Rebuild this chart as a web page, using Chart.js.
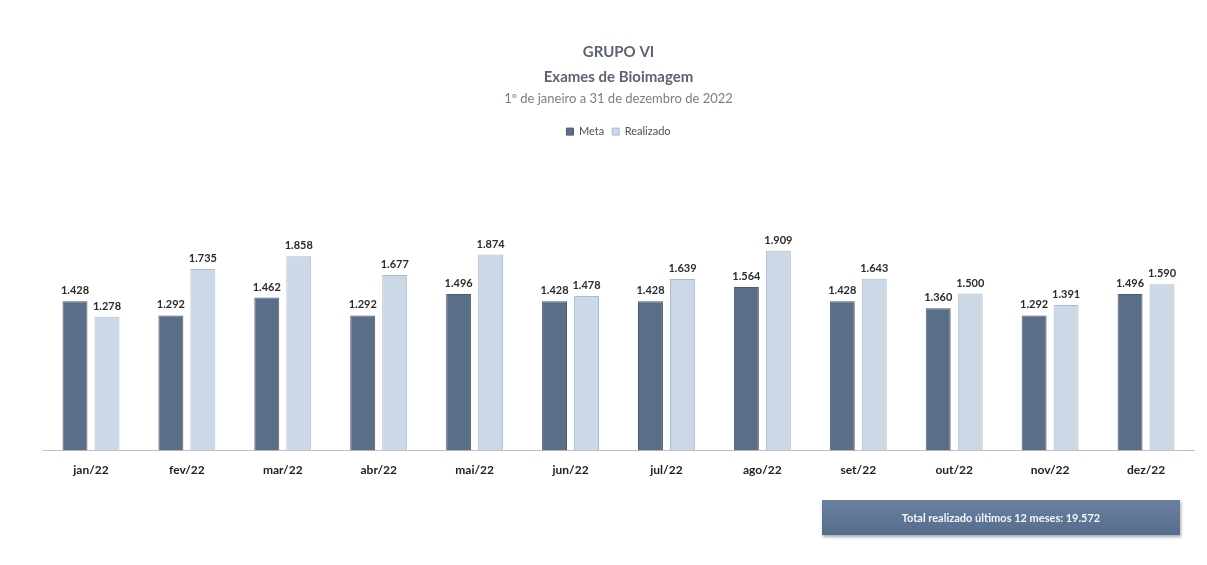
<!doctype html>
<html>
<head>
    <title>Exames de Bioimagem</title>
    <meta charset="utf-8">
    <script src="https://cdn.jsdelivr.net/npm/chart.js@4.4.1/dist/chart.umd.min.js"></script>
    <style>
    body { margin: 0; background: #fff; }
    #wrap { position: relative; width: 1207px; height: 565px; }
    #total {
        position: absolute; left: 822px; top: 500px; width: 358px; height: 35px;
        background: linear-gradient(#6a80a0, #566c8c);
        color: #f4f6fa; font: bold 11px Lato, "Open Sans", sans-serif;
        line-height: 35px; text-align: center;
        box-shadow: 1px 2px 3px rgba(0,0,0,0.35);
    }
    </style>
</head>
<body>
<div id="wrap">
    <canvas id="grafico" width="1207" height="565"></canvas>
    <div id="total"></div>
</div>
<script>
    var meses = ["jan/22", "fev/22", "mar/22", "abr/22", "mai/22", "jun/22",
                 "jul/22", "ago/22", "set/22", "out/22", "nov/22", "dez/22"];
    var meta = [1428, 1292, 1462, 1292, 1496, 1428, 1428, 1564, 1428, 1360, 1292, 1496];
    var realizado = [1278, 1735, 1858, 1677, 1874, 1478, 1639, 1909, 1643, 1500, 1391, 1590];

    function milhar(n) {
        return String(n).replace(/\B(?=(\d{3})+(?!\d))/g, ".");
    }

    var soma = 0;
    for (var i = 0; i < realizado.length; i++) soma += realizado[i];
    document.getElementById("total").textContent = "Total realizado últimos 12 meses: " + milhar(soma);

    // rotulos de valor em cima das barras
    var rotulos = {
        id: "rotulos",
        afterDatasetsDraw: function(chart) {
            var ctx = chart.ctx;
            ctx.save();
            ctx.font = "bold 11px Lato, 'Open Sans', sans-serif";
            ctx.fillStyle = "#2b2b2b";
            ctx.textAlign = "center";
            ctx.textBaseline = "bottom";
            chart.data.datasets.forEach(function(ds, d) {
                chart.getDatasetMeta(d).data.forEach(function(bar, j) {
                    ctx.fillText(milhar(ds.data[j]), bar.x, bar.y - 5);
                });
            });
            ctx.restore();
        }
    };

    var ctx = document.getElementById("grafico").getContext("2d");
    new Chart(ctx, {
        type: "bar",
        data: {
            labels: meses,
            datasets: [
                {
                    label: "Meta",
                    data: meta,
                    backgroundColor: "#5b6e89",
                    borderColor: "#4a5b74",
                    borderWidth: 1
                },
                {
                    label: "Realizado",
                    data: realizado,
                    backgroundColor: "#cbd8e6",
                    borderColor: "#a8bbd0",
                    borderWidth: 1
                }
            ]
        },
        options: {
            responsive: false,
            animation: false,
            layout: { padding: { left: 43, right: 13, top: 40, bottom: 84 } },
            datasets: {
                bar: { categoryPercentage: 0.667, barPercentage: 0.78 }
            },
            plugins: {
                title: {
                    display: true,
                    text: ["GRUPO VI", "Exames de Bioimagem"],
                    color: "#5b6470",
                    font: { family: "Lato, 'Open Sans', sans-serif", size: 15, weight: "bold", lineHeight: 1.65 },
                    padding: { top: 0, bottom: 2 }
                },
                subtitle: {
                    display: true,
                    text: "1º de janeiro a 31 de dezembro de 2022",
                    color: "#7a7f86",
                    font: { family: "Lato, 'Open Sans', sans-serif", size: 13 },
                    padding: { top: 0, bottom: 11 }
                },
                legend: {
                    position: "top",
                    labels: {
                        boxWidth: 7, boxHeight: 7, padding: 8,
                        color: "#4a4f57",
                        font: { family: "Lato, 'Open Sans', sans-serif", size: 11 }
                    }
                },
                tooltip: { enabled: false }
            },
            scales: {
                x: {
                    grid: { display: false },
                    border: { display: true, color: "#bfbfbf" },
                    ticks: {
                        color: "#222",
                        padding: 4,
                        font: { family: "Lato, 'Open Sans', sans-serif", size: 12, weight: "bold" }
                    }
                },
                y: {
                    display: false,
                    min: 0,
                    max: 2900
                }
            }
        },
        plugins: [rotulos]
    });
</script>
</body>
</html>
